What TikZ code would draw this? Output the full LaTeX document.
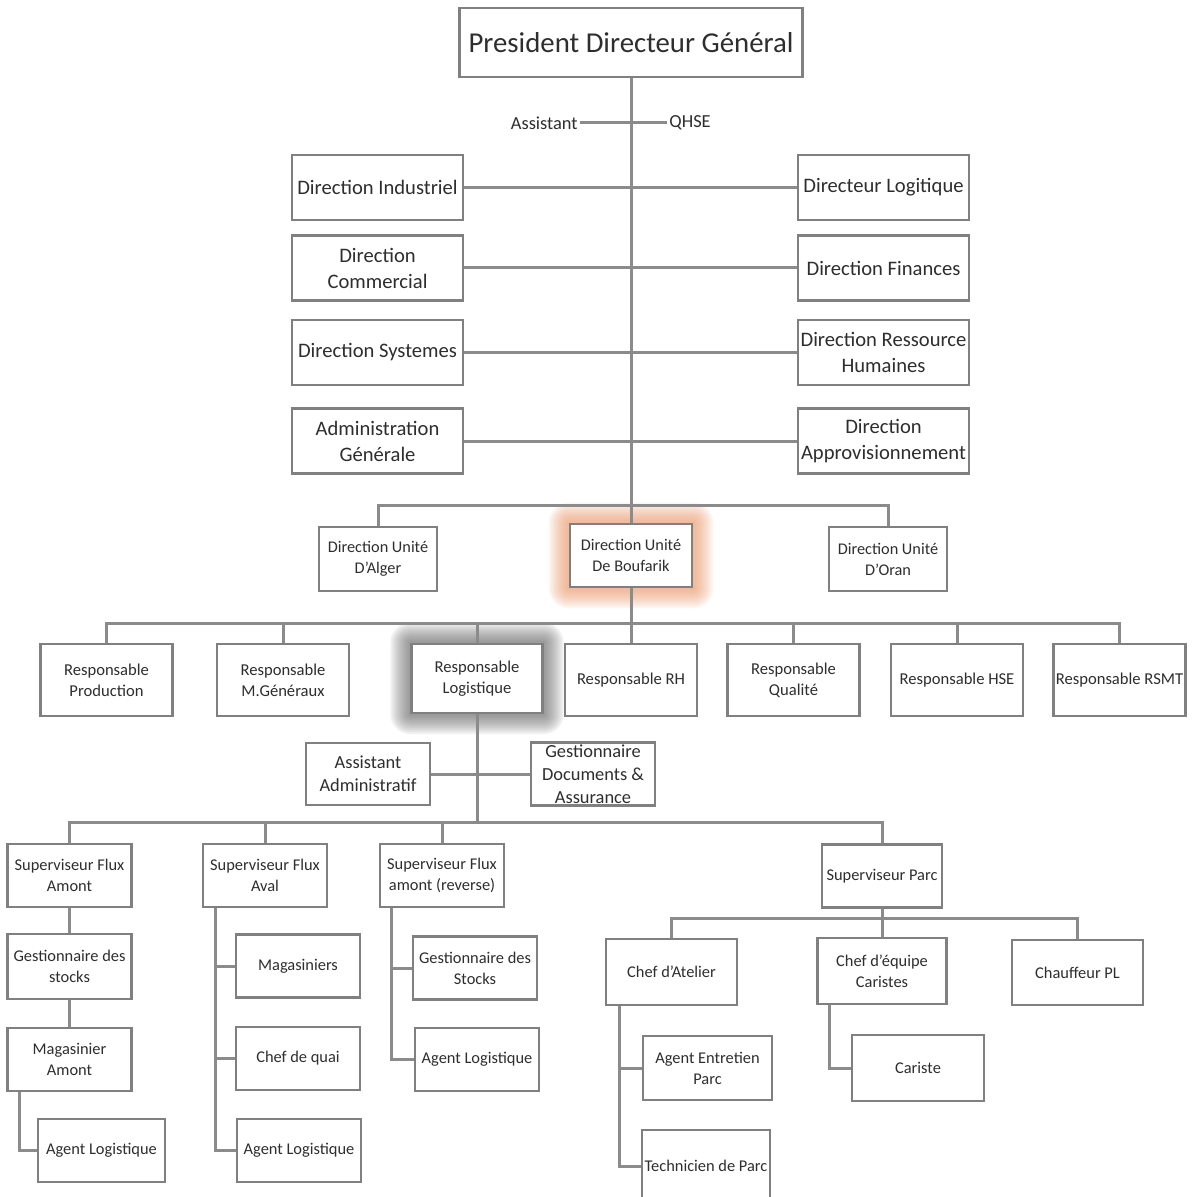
\documentclass[tikz,border=0pt]{standalone}
\usepackage{fontspec}
\setmainfont{Carlito}
\usetikzlibrary{backgrounds}
\definecolor{MyLineGrey}{rgb}{0.545, 0.545, 0.545}
\definecolor{MyBoxGrey}{rgb}{0.500, 0.500, 0.500}
\definecolor{MyInk}{rgb}{0.180, 0.180, 0.180}
\definecolor{MyGlowOrange}{rgb}{0.925, 0.580, 0.380}
\definecolor{MyGlowGrey}{rgb}{0.330, 0.330, 0.330}

\begin{document}
\begin{tikzpicture}[x=0.5pt, y=-0.5pt,
		box/.style={draw=MyBoxGrey, line width=1.2pt, fill=white, align=center,
			inner sep=1pt, text=MyInk},
		top/.style={box, minimum width=171.5pt, minimum height=34.5pt,
			font=\fontsize{14.4}{17}\selectfont},
		dir/.style={box, minimum width=85.5pt, minimum height=32.5pt,
			font=\fontsize{10.3}{13}\selectfont},
		unit/.style={box, minimum width=59pt, minimum height=32pt,
			font=\fontsize{8.15}{10.5}\selectfont},
		resp/.style={box, minimum width=66pt, minimum height=36pt,
			font=\fontsize{8.3}{10.5}\selectfont},
		staff/.style={box, minimum width=62pt, minimum height=31pt,
			font=\fontsize{9.2}{11.5}\selectfont},
		post/.style={box, minimum width=62pt, minimum height=31.5pt,
			font=\fontsize{8.2}{10.5}\selectfont},
		tag/.style={inner sep=1pt, text=MyInk, font=\fontsize{9.2}{11}\selectfont},
		link/.style={draw=MyLineGrey, line width=1.5pt}]
		\useasboundingbox (0,0) rectangle (1192,1197);
		\node[top] (pdg) at (631,42.5) {President Directeur Général};
		\node[tag, anchor=east] (assist) at (580,123) {Assistant};
		\node[tag, anchor=west] (qhse) at (667,123) {QHSE};
		\node[dir] (dind) at (377.5,187.5) {Direction Industriel};
		\node[dir] (dcom) at (377.5,268) {Direction\\Commercial};
		\node[dir] (dsys) at (377.5,352.5) {Direction Systemes};
		\node[dir] (dadm) at (377.5,441) {Administration\\Générale};
		\node[dir] (dlog) at (883.5,187.5) {Directeur Logitique};
		\node[dir] (dfin) at (883.5,268) {Direction Finances};
		\node[dir] (drh) at (883.5,352.5) {Direction Ressource\\Humaines};
		\node[dir] (dapp) at (883.5,441) {Direction\\Approvisionnement};
		\node[unit] (alger) at (378,559) {Direction Unité\\D'Alger};
		\node[unit, minimum width=61pt, minimum height=31.5pt] (boufarik) at (631,555.5) {Direction Unité\\De Boufarik};
		\node[unit] (oran) at (888,559) {Direction Unité\\D'Oran};
		\node[resp] (rprod) at (106.5,680) {Responsable\\Production};
		\node[resp] (rmg) at (283,680) {Responsable\\M.Généraux};
		\node[resp, minimum width=65.5pt, minimum height=34.5pt] (rlog) at (477,678.5) {Responsable\\Logistique};
		\node[resp] (rrh) at (631,680) {Responsable RH};
		\node[resp] (rqual) at (793.5,680) {Responsable\\Qualité};
		\node[resp] (rhse) at (957,680) {Responsable HSE};
		\node[resp] (rrsmt) at (1119.5,680) {Responsable RSMT};
		\node[staff] (aadm) at (368,774) {Assistant\\Administratif};
		\node[staff] (gdoc) at (593,774) {Gestionnaire\\Documents \&\\Assurance};
		\node[post] (sfam) at (69.5,875.5) {Superviseur Flux\\Amont};
		\node[post] (sfav) at (265,875.5) {Superviseur Flux\\Aval};
		\node[post] (sfrev) at (442,875.5) {Superviseur Flux\\amont (reverse)};
		\node[post, minimum width=60pt] (spar) at (882,876) {Superviseur Parc};
		\node[post, minimum height=32.5pt] (gsto) at (69.5,966.5) {Gestionnaire des\\stocks};
		\node[post] (mag) at (69.5,1059.5) {Magasinier\\Amont};
		\node[post, minimum width=63.5pt] (agl1) at (101.5,1150.5) {Agent Logistique};
		\node[post] (magas) at (298,966) {Magasiniers};
		\node[post] (cquai) at (298,1058.5) {Chef de quai};
		\node[post] (agl2) at (299,1150.5) {Agent Logistique};
		\node[post] (gsto2) at (475,968) {Gestionnaire des\\Stocks};
		\node[post] (agl3) at (477,1059.5) {Agent Logistique};
		\node[post, minimum width=65.5pt, minimum height=33pt] (chat) at (671.5,972) {Chef d'Atelier};
		\node[post, minimum width=64.5pt, minimum height=33pt] (chcar) at (882,971) {Chef d'équipe\\Caristes};
		\node[post, minimum width=65.5pt, minimum height=32.5pt] (chpl) at (1077.5,972.5) {Chauffeur PL};
		\node[post, minimum width=64.5pt, minimum height=32pt] (aep) at (707.5,1068) {Agent Entretien\\Parc};
		\node[post, minimum width=66pt, minimum height=33pt] (cariste) at (918,1068) {Cariste};
		\node[post, minimum width=64pt, minimum height=36pt, inner sep=0pt] (tech) at (706,1166) {Technicien de Parc};
		\begin{scope}[on background layer]
			\fill[white] (0,0) rectangle (1192,1197);
			\foreach \k in {1,...,10}
				\fill[MyGlowOrange, opacity=0.09, rounded corners=\k pt]
					([shift={(-\k pt,\k pt)}]boufarik.north west) rectangle ([shift={(\k pt,-\k pt)}]boufarik.south east);
			\foreach \k in {1,...,10}
				\fill[MyGlowGrey, opacity=0.08, rounded corners=\k pt]
					([shift={(-\k pt,\k pt)}]rlog.north west) rectangle ([shift={(\k pt,-\k pt)}]rlog.south east);
		\end{scope}
		\coordinate (bus1) at (631,505);
		\coordinate (bus2) at (631,623);
		\coordinate (bus3) at (477,822);
		\coordinate (bus4) at (882,918);
		\draw[link] (pdg.south) -- (boufarik.north);
		\draw[link] (assist.east) -- (qhse.west);
		\draw[link] (dind.east) -- (dlog.west);
		\draw[link] (dcom.east) -- (dfin.west);
		\draw[link] (dsys.east) -- (drh.west);
		\draw[link] (dadm.east) -- (dapp.west);
		\draw[link] (alger.north) |- (bus1) -| (oran.north);
		\draw[link] (boufarik.south) -- (rrh.north);
		\draw[link] (rprod.north) |- (bus2) -| (rrsmt.north);
		\foreach \n in {rmg,rlog,rqual,rhse}
			\draw[link] (\n.north) -- (\n.north |- bus2);
		\draw[link] (rlog.south) -- (bus3);
		\draw[link] (aadm.east) -- (gdoc.west);
		\draw[link] (sfam.north) |- (bus3) -| (spar.north);
		\foreach \n in {sfav,sfrev}
			\draw[link] (\n.north) -- (\n.north |- bus3);
		\draw[link] (sfam.south) -- (gsto.north);
		\draw[link] (gsto.south) -- (mag.north);
		\draw[link] ([xshift=6.5pt]mag.south west) |- (agl1.west);
		\foreach \n in {magas,cquai,agl2}
			\draw[link] ([xshift=7pt]sfav.south west) |- (\n.west);
		\foreach \n in {gsto2,agl3}
			\draw[link] ([xshift=6.5pt]sfrev.south west) |- (\n.west);
		\draw[link] (spar.south) -- (chcar.north);
		\draw[link] (chat.north) |- (bus4) -| (chpl.north);
		\foreach \n in {aep,tech}
			\draw[link] ([xshift=7.5pt]chat.south west) |- (\n.west);
		\draw[link] ([xshift=6.5pt]chcar.south west) |- (cariste.west);
	\end{tikzpicture}
\end{document}
